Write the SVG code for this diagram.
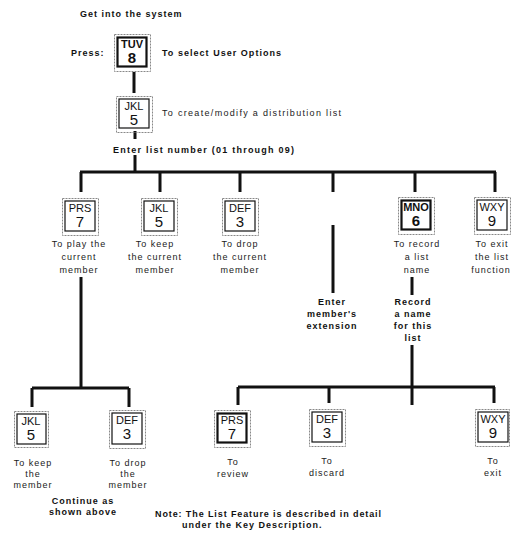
<svg xmlns="http://www.w3.org/2000/svg" width="512" height="535" viewBox="0 0 512 535">
<style>
.b{font-family:"Liberation Sans",Arial,sans-serif;font-weight:bold;font-size:9px;letter-spacing:1px;fill:#111}
.r{font-family:"Liberation Sans",Arial,sans-serif;font-size:9px;letter-spacing:1px;fill:#222}
.m{text-anchor:middle}
.outer{fill:none;stroke:#888;stroke-width:1;stroke-dasharray:2 1}
.inner{fill:#fff;stroke:#111;stroke-width:1.2}
.innerb{fill:#fff;stroke:#111;stroke-width:2.2}
.kl{font-family:"Liberation Sans",Arial,sans-serif;font-size:11px;text-anchor:middle;fill:#111}
.kd{font-family:"Liberation Sans",Arial,sans-serif;font-size:15px;text-anchor:middle;fill:#111}
.bold{font-weight:bold}
.c{stroke:#111;stroke-width:3;fill:none}
</style>
<rect width="512" height="535" fill="#fff"/>

<text class="b" x="80" y="17">Get into the system</text>
<text class="b" x="71" y="56">Press:</text>
<text class="b" x="162" y="56" textLength="120" lengthAdjust="spacing">To select User Options</text>
<text class="r" x="162" y="116" textLength="180" lengthAdjust="spacing">To create/modify a distribution list</text>
<text class="b" x="113" y="153" textLength="182" lengthAdjust="spacing">Enter list number (01 through 09)</text>

<g id="connectors">
<path class="c" d="M134 72V93"/>
<path class="c" d="M135 131V139M135 155V172"/>
<path class="c" d="M80 172H496M81 172V192M160 172V192M240 172V192M333 172V192M415 172V192M495 172V192"/>
<path class="c" d="M333 225V293"/>
<path class="c" d="M412 277V295"/>
<path class="c" d="M81 277V388M32 388H129M32 388V407M129 388V407"/>
<path class="c" d="M412 345V405M238 387H495M238 387V405M329 387V403M494 387V403"/>
</g>

<g id="key-tuv8" transform="translate(114,34)">
<rect class="outer" x="0.5" y="0.5" width="36" height="37"/>
<rect class="innerb" x="3.5" y="3.5" width="29" height="29"/>
<text class="kl bold" x="18" y="14">TUV</text><text class="kd bold" x="18" y="29">8</text>
</g>
<g id="key-jkl5-top" transform="translate(116,96)">
<rect class="outer" x="0.5" y="0.5" width="36" height="36"/>
<rect class="inner" x="3" y="3" width="30" height="29"/>
<text class="kl" x="18" y="14">JKL</text><text class="kd" x="18" y="29">5</text>
</g>

<g id="key-prs7-a" transform="translate(62,198)">
<rect class="outer" x="0.5" y="0.5" width="36" height="37"/>
<rect class="inner" x="3" y="3" width="30" height="30"/>
<text class="kl" x="18" y="14">PRS</text><text class="kd" x="18" y="29">7</text>
<text class="r m" x="17" y="49">To play the</text>
<text class="r m" x="17" y="62">current</text>
<text class="r m" x="17" y="75">member</text>
</g>
<g id="key-jkl5-a" transform="translate(141,198)">
<rect class="outer" x="0.5" y="0.5" width="36" height="37"/>
<rect class="inner" x="3" y="3" width="30" height="30"/>
<text class="kl" x="18" y="14">JKL</text><text class="kd" x="18" y="29">5</text>
<text class="r m" x="14" y="49">To keep</text>
<text class="r m" x="14" y="62">the current</text>
<text class="r m" x="14" y="75">member</text>
</g>
<g id="key-def3-a" transform="translate(222,198)">
<rect class="outer" x="0.5" y="0.5" width="36" height="37"/>
<rect class="inner" x="3" y="3" width="30" height="30"/>
<text class="kl" x="18" y="14">DEF</text><text class="kd" x="18" y="29">3</text>
<text class="r m" x="18" y="49">To drop</text>
<text class="r m" x="18" y="62">the current</text>
<text class="r m" x="18" y="75">member</text>
</g>
<g id="extension">
<text class="b m" x="332" y="305">Enter</text>
<text class="b m" x="332" y="317">member's</text>
<text class="b m" x="332" y="329">extension</text>
</g>
<g id="key-mno6" transform="translate(398,197)">
<rect class="outer" x="0.5" y="0.5" width="36" height="37"/>
<rect class="innerb" x="3.5" y="3.5" width="29" height="29"/>
<text class="kl bold" x="18" y="14">MNO</text><text class="kd bold" x="18" y="29">6</text>
<text class="r m" x="19" y="50">To record</text>
<text class="r m" x="19" y="63">a list</text>
<text class="r m" x="19" y="76">name</text>
</g>
<g id="record">
<text class="b m" x="413" y="305">Record</text>
<text class="b m" x="413" y="317">a name</text>
<text class="b m" x="413" y="329">for this</text>
<text class="b m" x="413" y="341">list</text>
</g>
<g id="key-wxy9-a" transform="translate(474,197)">
<rect class="outer" x="0.5" y="0.5" width="36" height="37"/>
<rect class="inner" x="3" y="3" width="30" height="30"/>
<text class="kl" x="18" y="14">WXY</text><text class="kd" x="18" y="29">9</text>
<text class="r m" x="18" y="50">To exit</text>
<text class="r m" x="18" y="63">the list</text>
<text class="r m" x="17" y="76">function</text>
</g>

<g id="key-jkl5-b" transform="translate(14,411)">
<rect class="outer" x="0.5" y="0.5" width="34" height="36"/>
<rect class="inner" x="3" y="3" width="29" height="30"/>
<text class="kl" x="17" y="14">JKL</text><text class="kd" x="17" y="29">5</text>
<text class="r m" x="19" y="55">To keep</text>
<text class="r m" x="19" y="66">the</text>
<text class="r m" x="19" y="77">member</text>
</g>
<g id="key-def3-b" transform="translate(109,410)">
<rect class="outer" x="0.5" y="0.5" width="36" height="38"/>
<rect class="inner" x="3" y="3" width="30" height="31"/>
<text class="kl" x="18" y="14">DEF</text><text class="kd" x="18" y="29">3</text>
<text class="r m" x="19" y="56">To drop</text>
<text class="r m" x="19" y="67">the</text>
<text class="r m" x="19" y="78">member</text>
</g>
<g id="continue">
<text class="b m" x="83" y="504">Continue as</text>
<text class="b m" x="83" y="515">shown above</text>
</g>

<g id="key-prs7-b" transform="translate(214,410)">
<rect class="outer" x="0.5" y="0.5" width="36" height="37"/>
<rect class="innerb" x="3.5" y="3.5" width="29" height="29"/>
<text class="kl" x="18" y="14">PRS</text><text class="kd" x="18" y="29">7</text>
<text class="r m" x="19" y="55">To</text>
<text class="r m" x="19" y="67">review</text>
</g>
<g id="key-def3-c" transform="translate(309,409)">
<rect class="outer" x="0.5" y="0.5" width="36" height="37"/>
<rect class="inner" x="3" y="3" width="30" height="30"/>
<text class="kl" x="18" y="14">DEF</text><text class="kd" x="18" y="29">3</text>
<text class="r m" x="18" y="55">To</text>
<text class="r m" x="18" y="67">discard</text>
</g>
<g id="key-wxy9-b" transform="translate(475,409)">
<rect class="outer" x="0.5" y="0.5" width="34" height="37"/>
<rect class="inner" x="3" y="3" width="30" height="30"/>
<text class="kl" x="18" y="14">WXY</text><text class="kd" x="18" y="29">9</text>
<text class="r m" x="18" y="55">To</text>
<text class="r m" x="18" y="67">exit</text>
</g>

<g id="note">
<text class="b" x="155" y="517" textLength="227" lengthAdjust="spacing">Note: The List Feature is described in detail</text>
<text class="b" x="182" y="528">under the Key Description.</text>
</g>
</svg>
